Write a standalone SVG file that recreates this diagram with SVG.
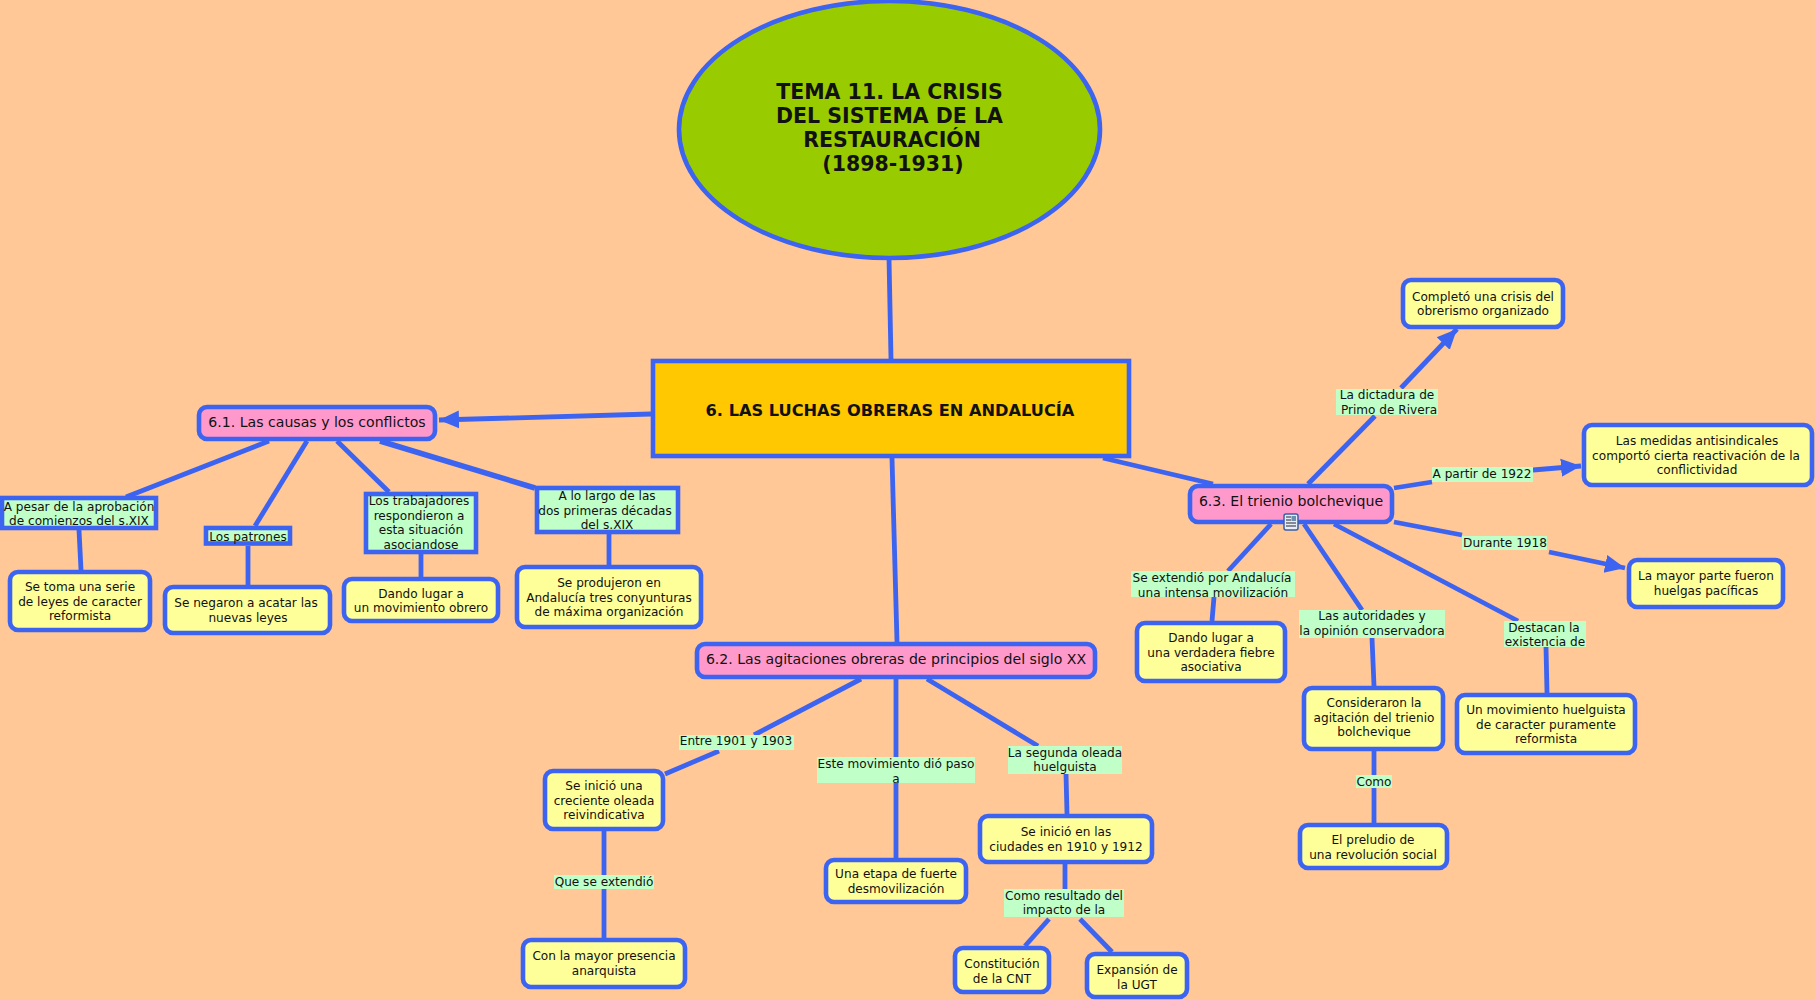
<svg xmlns="http://www.w3.org/2000/svg" width="1815" height="1000" viewBox="0 0 1815 1000">
<style>
text{font-family:"DejaVu Sans","Verdana",sans-serif;font-size:12.1px;fill:#111;text-anchor:middle}
.c{stroke:#3C64F0;stroke-width:4.8;fill:none}
.n rect,.n ellipse{stroke:#3C64F0;stroke-width:4.6}
.y{fill:#FFFF99}
.p{fill:#FF99CC}
.g{fill:#C0FFC8}
.l{fill:#C0FFC8;stroke:none}
.p+text{font-size:14.1px}
</style>
<defs>
<marker id="a" markerUnits="userSpaceOnUse" markerWidth="22" markerHeight="22" refX="20" refY="11" orient="auto"><path d="M0 2L20 11L0 20Z" fill="#3C64F0"/></marker>
</defs>
<rect width="1815" height="1000" fill="#FFC896"/>
<g id="connectors">
<path class="c" d="M889 258L891 359"/>
<path class="c" d="M651 414L439 420" marker-end="url(#a)"/>
<path class="c" d="M1103 458L1213 484"/>
<path class="c" d="M892 458L897 642"/>
<path class="c" d="M269 441L126 497"/>
<path class="c" d="M307 441L255 526"/>
<path class="c" d="M337 441L389 492"/>
<path class="c" style="stroke-width:5.500" d="M380 441L535 488"/>
<path class="c" d="M79 530L81 570"/>
<path class="c" d="M248 546V585"/>
<path class="c" d="M421 554V577"/>
<path class="c" d="M609 534V565"/>
<path class="c" d="M861 679L754 735"/>
<path class="c" d="M719 751L665 774"/>
<path class="c" d="M896 679V858"/>
<path class="c" d="M927 679L1038 746"/>
<path class="c" d="M1066 774L1067 814"/>
<path class="c" d="M1065 864V889"/>
<path class="c" d="M1049 919L1025 946"/>
<path class="c" d="M1080 919L1112 952"/>
<path class="c" d="M604 831V938"/>
<path class="c" d="M1308 484L1375 416"/>
<path class="c" d="M1401 388L1457 329" marker-end="url(#a)"/>
<path class="c" d="M1394 488L1432 482"/>
<path class="c" d="M1533 470L1581 466" marker-end="url(#a)"/>
<path class="c" d="M1394 522L1462 535"/>
<path class="c" d="M1549 552L1625 568" marker-end="url(#a)"/>
<path class="c" d="M1271 524L1228 571"/>
<path class="c" d="M1214 597L1212 621"/>
<path class="c" d="M1304 524L1362 610"/>
<path class="c" d="M1372 638L1374 686"/>
<path class="c" d="M1334 524L1518 621"/>
<path class="c" d="M1546 647L1547 693"/>
<path class="c" d="M1374 751V823"/>
</g>
<g id="tema" class="n"><ellipse cx="889.5" cy="129.5" rx="210.500" ry="128.500" fill="#99CC00"/>
<text style="font-size:20.500px;font-weight:bold"><tspan x="889.5" y="99">TEMA 11. LA CRISIS</tspan><tspan x="889.5" y="123">DEL SISTEMA DE LA</tspan><tspan x="892" y="147">RESTAURACIÓN</tspan><tspan x="893" y="171">(1898-1931)</tspan></text></g>
<g id="luchas" class="n"><rect x="653" y="361" width="476" height="95" fill="#FFC800"/><text x="890" y="416" style="font-size:16.200px;font-weight:bold">6. LAS LUCHAS OBRERAS EN ANDALUCÍA</text></g>
<g id="n61" class="n"><rect class="p" x="199" y="407" width="236" height="32" rx="8"/><text x="317" y="427">6.1. Las causas y los conflictos</text></g>
<g id="n62" class="n"><rect class="p" x="697" y="644" width="398" height="33" rx="8"/><text x="896" y="664">6.2. Las agitaciones obreras de principios del siglo XX</text></g>
<g id="n63" class="n"><rect class="p" x="1190" y="486" width="202" height="36" rx="8"/><text x="1291" y="506">6.3. El trienio bolchevique</text>
<rect x="1284" y="514" width="14" height="16" rx="2" fill="#E8EEF8" style="stroke:#3A5FA8;stroke-width:1.5"/><path d="M1286 517h5M1286 520h5M1286 523h10M1286 526h10" stroke="#223" fill="none"/><rect x="1291.500" y="516" width="4.500" height="5" fill="#6a8fb0" style="stroke:none"/></g>
<g id="lbl1" class="n"><rect class="g" x="2" y="498" width="154" height="30"/><text><tspan x="79" y="510.500">A pesar de la aprobación</tspan><tspan x="79" y="525.300">de comienzos del s.XIX</tspan></text></g>
<g id="lbl2" class="n"><rect class="g" x="206" y="528" width="84" height="15.500"/><text x="248" y="540.500">Los patrones</text></g>
<g id="lbl3" class="n"><rect class="g" x="366" y="494" width="110" height="58"/><text><tspan x="419" y="505">Los trabajadores</tspan><tspan x="419" y="519.600">respondieron a</tspan><tspan x="421" y="534.300">esta situación</tspan><tspan x="421" y="549">asociandose</tspan></text></g>
<g id="lbl4" class="n"><rect class="g" x="537" y="488" width="141" height="44"/><text><tspan x="607" y="500">A lo largo de las</tspan><tspan x="605" y="514.700">dos primeras décadas</tspan><tspan x="607" y="529.400">del s.XIX</tspan></text></g>
<g id="n1" class="n"><rect class="y" x="10" y="572" width="140" height="58" rx="8"/><text><tspan x="80" y="591">Se toma una serie</tspan><tspan x="80" y="605.700">de leyes de caracter</tspan><tspan x="80" y="620.400">reformista</tspan></text></g>
<g id="n2" class="n"><rect class="y" x="165" y="587" width="165" height="46" rx="8"/><text><tspan x="246" y="607">Se negaron a acatar las</tspan><tspan x="248" y="621.700">nuevas leyes</tspan></text></g>
<g id="n3" class="n"><rect class="y" x="344" y="579" width="154" height="42" rx="8"/><text><tspan x="421" y="597.500">Dando lugar a</tspan><tspan x="421" y="612.200">un movimiento obrero</tspan></text></g>
<g id="n4" class="n"><rect class="y" x="517" y="567" width="184" height="60" rx="8"/><text><tspan x="609" y="587">Se produjeron en</tspan><tspan x="609" y="601.700">Andalucía tres conyunturas</tspan><tspan x="609" y="616.400">de máxima organización</tspan></text></g>
<g id="lb5"><rect class="l" x="679" y="735" width="115" height="15"/><text x="736" y="745">Entre 1901 y 1903</text></g>
<g id="lb6"><rect class="l" x="817" y="757" width="158" height="26"/><text><tspan x="896" y="768">Este movimiento dió paso</tspan><tspan x="896" y="782.500">a</tspan></text></g>
<g id="lb7"><rect class="l" x="1008" y="746" width="114" height="28"/><text><tspan x="1065" y="756.500">La segunda oleada</tspan><tspan x="1065" y="771">huelguista</tspan></text></g>
<g id="n5" class="n"><rect class="y" x="545" y="771" width="118" height="58" rx="8"/><text><tspan x="604" y="790">Se inició una</tspan><tspan x="604" y="804.700">creciente oleada</tspan><tspan x="604" y="819.400">reivindicativa</tspan></text></g>
<g id="n6" class="n"><rect class="y" x="826" y="860" width="140" height="42" rx="8"/><text><tspan x="896" y="878">Una etapa de fuerte</tspan><tspan x="896" y="892.700">desmovilización</tspan></text></g>
<g id="n7" class="n"><rect class="y" x="980" y="816" width="172" height="46" rx="8"/><text><tspan x="1066" y="836">Se inició en las</tspan><tspan x="1066" y="850.700">ciudades en 1910 y 1912</tspan></text></g>
<g id="lb8"><rect class="l" x="1004" y="889" width="120" height="28"/><text><tspan x="1064" y="899.500">Como resultado del</tspan><tspan x="1064" y="914.200">impacto de la</tspan></text></g>
<g id="lb9"><rect class="l" x="554" y="875" width="100" height="14"/><text x="604" y="886">Que se extendió</text></g>
<g id="n8" class="n"><rect class="y" x="523" y="940" width="162" height="47" rx="8"/><text><tspan x="604" y="960">Con la mayor presencia</tspan><tspan x="604" y="974.700">anarquista</tspan></text></g>
<g id="n9" class="n"><rect class="y" x="955" y="948" width="94" height="44" rx="8"/><text><tspan x="1002" y="968">Constitución</tspan><tspan x="1002" y="982.700">de la CNT</tspan></text></g>
<g id="n10" class="n"><rect class="y" x="1087" y="954" width="100" height="43" rx="8"/><text><tspan x="1137" y="974">Expansión de</tspan><tspan x="1137" y="988.700">la UGT</tspan></text></g>
<g id="n11" class="n"><rect class="y" x="1403" y="280" width="160" height="47" rx="8"/><text><tspan x="1483" y="300.500">Completó una crisis del</tspan><tspan x="1483" y="315.200">obrerismo organizado</tspan></text></g>
<g id="lb10"><rect class="l" x="1336" y="389" width="102" height="26"/><text><tspan x="1387" y="399">La dictadura de</tspan><tspan x="1389" y="413.700">Primo de Rivera</tspan></text></g>
<g id="n12" class="n"><rect class="y" x="1584" y="425" width="228" height="60" rx="8"/><text><tspan x="1697" y="445">Las medidas antisindicales</tspan><tspan x="1696" y="459.700">comportó cierta reactivación de la</tspan><tspan x="1697" y="474.400">conflictividad</tspan></text></g>
<g id="lb11"><rect class="l" x="1432" y="467" width="101" height="15"/><text x="1482" y="478">A partir de 1922</text></g>
<g id="lb12"><rect class="l" x="1462" y="536" width="85" height="14"/><text x="1505" y="547">Durante 1918</text></g>
<g id="n13" class="n"><rect class="y" x="1629" y="560" width="154" height="47" rx="8"/><text><tspan x="1706" y="580">La mayor parte fueron</tspan><tspan x="1706" y="594.700">huelgas pacíficas</tspan></text></g>
<g id="lb13"><rect class="l" x="1131" y="571" width="164" height="26"/><text><tspan x="1212" y="582">Se extendió por Andalucía</tspan><tspan x="1213" y="596.500">una intensa movilización</tspan></text></g>
<g id="lb14"><rect class="l" x="1299" y="610" width="146" height="28"/><text><tspan x="1372" y="620">Las autoridades y</tspan><tspan x="1372" y="634.700">la opinión conservadora</tspan></text></g>
<g id="lb15"><rect class="l" x="1504" y="621" width="82" height="26"/><text><tspan x="1544" y="631.500">Destacan la</tspan><tspan x="1545" y="646">existencia de</tspan></text></g>
<g id="n14" class="n"><rect class="y" x="1137" y="623" width="148" height="58" rx="8"/><text><tspan x="1211" y="642">Dando lugar a</tspan><tspan x="1211" y="656.700">una verdadera fiebre</tspan><tspan x="1211" y="671.400">asociativa</tspan></text></g>
<g id="n15" class="n"><rect class="y" x="1304" y="688" width="139" height="61" rx="8"/><text><tspan x="1374" y="707">Consideraron la</tspan><tspan x="1374" y="721.700">agitación del trienio</tspan><tspan x="1374" y="736.400">bolchevique</tspan></text></g>
<g id="n16" class="n"><rect class="y" x="1457" y="695" width="178" height="58" rx="8"/><text><tspan x="1546" y="714">Un movimiento huelguista</tspan><tspan x="1546" y="728.700">de caracter puramente</tspan><tspan x="1546" y="743.400">reformista</tspan></text></g>
<g id="lb16"><rect class="l" x="1356" y="775" width="36" height="13"/><text x="1374" y="786">Como</text></g>
<g id="n17" class="n"><rect class="y" x="1300" y="825" width="147" height="43" rx="8"/><text><tspan x="1373" y="844">El preludio de</tspan><tspan x="1373" y="858.700">una revolución social</tspan></text></g>
</svg>
